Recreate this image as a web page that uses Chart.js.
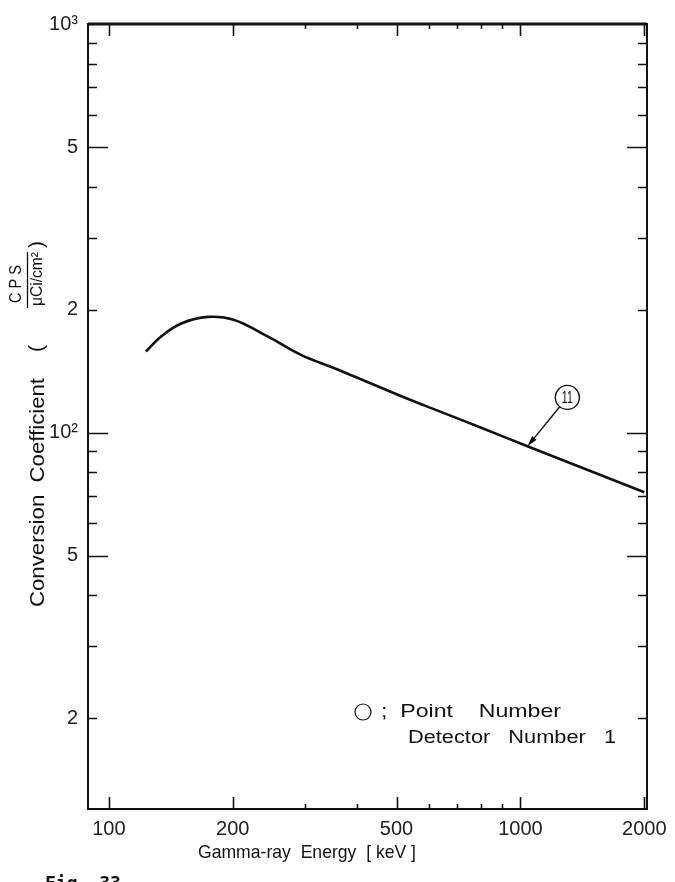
<!DOCTYPE html>
<html>
<head>
<meta charset="utf-8">
<script src="https://cdn.jsdelivr.net/npm/chart.js@4.4.1/dist/chart.umd.min.js"></script>
<style>
  html, body { margin: 0; padding: 0; background: #fff; }
  #wrap { width: 675px; height: 882px; position: relative; }
</style>
</head>
<body>
<div id="wrap"><canvas id="chart" width="675" height="882"></canvas></div>
<script>
// curve: energy (keV) vs conversion coefficient
var energy = [123, 134, 150, 174, 201, 243, 293, 352, 425, 512, 605, 800, 1040, 2000];
var coeff  = [158, 172, 185, 192, 189, 172, 155, 144, 133, 123, 115, 103, 92.6, 71.5];

// labelled ticks
var xTicks = [100, 200, 500, 1000, 2000];
var yTicks = [20, 50, 100, 200, 500, 1000];
var yTickText = ['2', '5', '10²', '2', '5', '10³'];

// point number callout (data coords of the circle and of the arrow tip)
var pointLabel = '11';
var pointAt = [1300, 122];
var arrowTo = [1040, 92.6];

var ink = '#111';
var labelFont = '"Liberation Sans", Arial, sans-serif';

function mantissa(v) {
  return Math.round(v / Math.pow(10, Math.floor(Math.log10(v) + 1e-9)));
}

function tickValues(min, max) {
  var out = [];
  for (var d = 1; d <= 10000; d *= 10) {
    for (var m = 1; m < 10; m++) {
      var v = m * d;
      if (v > min * 1.05 && v < max * 0.99) out.push(v);
    }
  }
  return out;
}

// draw text squeezed/stretched to a given width
function fitText(c, txt, x, y, w, rot) {
  c.save();
  c.translate(x, y);
  if (rot) c.rotate(rot);
  var m = c.measureText(txt).width;
  c.scale(w / m, 1);
  c.fillText(txt, 0, 0);
  c.restore();
}

var frame = {
  id: 'frame',
  afterDraw: function(chart) {
    var c = chart.ctx, a = chart.chartArea;
    var sx = chart.scales.x, sy = chart.scales.y;
    c.save();
    c.strokeStyle = ink;
    c.lineWidth = 2;
    c.strokeRect(a.left, a.top, a.right - a.left, a.bottom - a.top);
    c.lineWidth = 3;
    c.beginPath();
    c.moveTo(a.left, a.top); c.lineTo(a.right, a.top);
    c.stroke();

    // inward ticks, both sides
    c.lineWidth = 1.6;
    c.beginPath();
    tickValues(sy.min, sy.max).forEach(function(v) {
      var y = Math.round(sy.getPixelForValue(v)) + 0.5;
      var m = mantissa(v);
      var len = (m === 1 || m === 5) ? 20 : 9;
      c.moveTo(a.left, y); c.lineTo(a.left + len, y);
      c.moveTo(a.right, y); c.lineTo(a.right - len, y);
    });
    tickValues(sx.min, sx.max).forEach(function(v) {
      var x = Math.round(sx.getPixelForValue(v)) + 0.5;
      var len = xTicks.indexOf(v) >= 0 ? 12 : 5;
      c.moveTo(x, a.bottom); c.lineTo(x, a.bottom - len);
      c.moveTo(x, a.top); c.lineTo(x, a.top + len);
    });
    c.stroke();

    // callout circle + arrow
    var cx = sx.getPixelForValue(pointAt[0]), cy = sy.getPixelForValue(pointAt[1]);
    var tx = sx.getPixelForValue(arrowTo[0]), ty = sy.getPixelForValue(arrowTo[1]);
    var r = 12;
    c.lineWidth = 1.4;
    c.beginPath();
    c.arc(cx, cy, r, 0, Math.PI * 2);
    c.stroke();
    c.fillStyle = ink;
    c.font = '17px ' + labelFont;
    c.textAlign = 'center';
    c.textBaseline = 'middle';
    fitText(c, pointLabel, cx, cy + 1, 11);
    var dx = tx - cx, dy = ty - cy, d = Math.sqrt(dx * dx + dy * dy);
    var ux = dx / d, uy = dy / d;
    c.beginPath();
    c.moveTo(cx + ux * r, cy + uy * r);
    c.lineTo(tx - ux * 8, ty - uy * 8);
    c.stroke();
    c.beginPath();
    c.moveTo(tx, ty);
    c.lineTo(tx - ux * 11 - uy * 3, ty - uy * 11 + ux * 3);
    c.lineTo(tx - ux * 11 + uy * 3, ty - uy * 11 - ux * 3);
    c.closePath();
    c.fill();

    // legend text
    c.textAlign = 'left';
    c.textBaseline = 'middle';
    c.font = '18px ' + labelFont;
    c.lineWidth = 1.2;
    c.beginPath();
    c.arc(363, 712, 8, 0, Math.PI * 2);
    c.stroke();
    fitText(c, ';  Point    Number', 381, 712, 180);
    fitText(c, 'Detector   Number   1', 408, 738, 208);

    // axis titles
    c.font = '19px ' + labelFont;
    c.textBaseline = 'middle';
    fitText(c, 'Gamma-ray  Energy  [ keV ]', 198, 853, 218);
    c.font = '20px ' + labelFont;
    fitText(c, 'Conversion  Coefficient', 38, 607, 229, -Math.PI / 2);
    fitText(c, '(', 37, 352, 7, -Math.PI / 2);
    fitText(c, ')', 37, 248, 7, -Math.PI / 2);
    c.font = '16px ' + labelFont;
    fitText(c, 'C P S', 17, 303, 38, -Math.PI / 2);
    fitText(c, 'μCi/cm²', 38, 306, 54, -Math.PI / 2);
    c.lineWidth = 1.3;
    c.beginPath();
    c.moveTo(27.5, 308); c.lineTo(27.5, 252);
    c.stroke();

    c.font = 'bold 18px "DejaVu Sans Mono", monospace';
    c.textBaseline = 'top';
    c.fillText('Fig. 33', 45, 875);
    c.restore();
  }
};

var pts = energy.map(function(e, i) { return { x: e, y: coeff[i] }; });

new Chart(document.getElementById('chart'), {
  type: 'line',
  data: {
    datasets: [{
      data: pts,
      borderColor: ink,
      borderWidth: 2.6,
      pointRadius: 0,
      fill: false,
      tension: 0.4
    }]
  },
  options: {
    responsive: false,
    animation: false,
    layout: { padding: { top: 24, right: 28, left: 0, bottom: 0 } },
    plugins: { legend: { display: false }, tooltip: { enabled: false } },
    scales: {
      x: {
        type: 'logarithmic',
        min: 89, max: 2030,
        grid: { display: false, drawTicks: false },
        border: { display: false },
        afterBuildTicks: function(s) { s.ticks = xTicks.map(function(v) { return { value: v }; }); },
        afterFit: function(s) { s.height = 73; },
        ticks: {
          autoSkip: false, maxRotation: 0, padding: 8,
          color: '#222',
          font: { family: labelFont, size: 20 },
          callback: function(v) { return String(v); }
        }
      },
      y: {
        type: 'logarithmic',
        min: 12, max: 1000,
        grid: { display: false, drawTicks: false },
        border: { display: false },
        afterBuildTicks: function(s) { s.ticks = yTicks.map(function(v) { return { value: v }; }); },
        afterFit: function(s) { s.width = 88; },
        ticks: {
          autoSkip: false, padding: 10,
          color: '#222',
          font: { family: labelFont, size: 20 },
          callback: function(v) { var i = yTicks.indexOf(v); return i < 0 ? '' : yTickText[i]; }
        }
      }
    }
  },
  plugins: [frame]
});
</script>
</body>
</html>
